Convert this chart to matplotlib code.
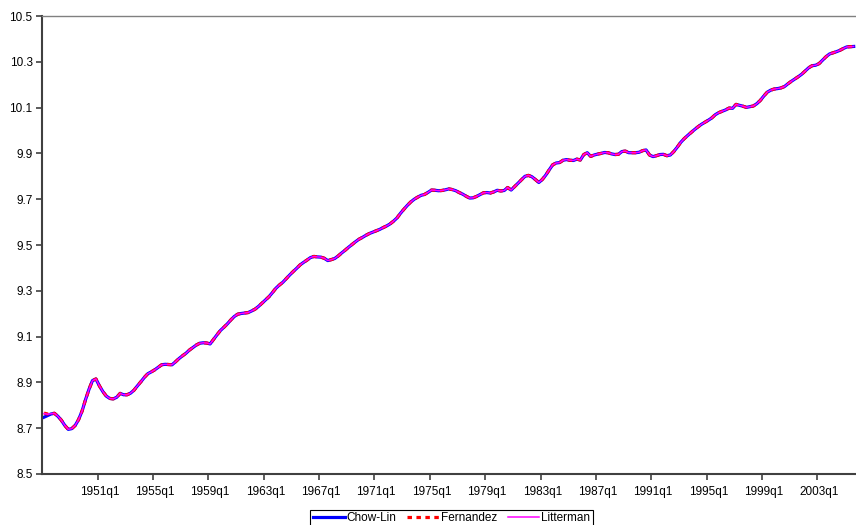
import matplotlib
matplotlib.use("Agg")
from matplotlib import pyplot as plt
import numpy as np

plt.rcParams["font.family"] = ["Liberation Sans", "DejaVu Sans"]

# quarterly series, 1947q1 onwards
chow_lin = [
    8.748, 8.755, 8.762, 8.765,   # 1947
    8.752, 8.735, 8.712, 8.695,   # 1948
    8.698, 8.712, 8.738, 8.775,   # 1949
    8.825, 8.870, 8.908, 8.915,   # 1950
    8.885, 8.860, 8.840, 8.830,   # 1951
    8.828, 8.835, 8.852, 8.846,   # 1952
    8.846, 8.853, 8.866, 8.885,   # 1953
    8.903, 8.922, 8.938, 8.946,   # 1954
    8.955, 8.966, 8.977, 8.979,   # 1955
    8.978, 8.977, 8.990, 9.004,   # 1956
    9.016, 9.027, 9.041, 9.052,   # 1957
    9.063, 9.071, 9.073, 9.072,   # 1958
    9.068, 9.088, 9.108, 9.127,   # 1959
    9.141, 9.156, 9.173, 9.188,   # 1960
    9.198, 9.201, 9.203, 9.205,   # 1961
    9.212, 9.220, 9.232, 9.246,   # 1962
    9.260, 9.274, 9.292, 9.311,   # 1963
    9.325, 9.337, 9.353, 9.369,   # 1964
    9.384, 9.398, 9.413, 9.424,   # 1965
    9.434, 9.445, 9.450, 9.448,   # 1966
    9.447, 9.442, 9.432, 9.436,   # 1967
    9.441, 9.452, 9.465, 9.477,   # 1968
    9.490, 9.502, 9.514, 9.525,   # 1969
    9.533, 9.542, 9.550, 9.556,   # 1970
    9.562, 9.568, 9.576, 9.583,   # 1971
    9.592, 9.604, 9.618, 9.638,   # 1972
    9.656, 9.673, 9.688, 9.700,   # 1973
    9.709, 9.717, 9.721, 9.730,   # 1974
    9.740, 9.739, 9.737, 9.738,   # 1975
    9.741, 9.745, 9.742, 9.737,   # 1976
    9.729, 9.722, 9.713, 9.705,   # 1977
    9.706, 9.712, 9.720, 9.728,   # 1978
    9.729, 9.727, 9.732, 9.739,   # 1979
    9.736, 9.738, 9.751, 9.740,   # 1980
    9.755, 9.770, 9.785, 9.800,   # 1981
    9.804, 9.798, 9.786, 9.773,   # 1982
    9.786, 9.805, 9.828, 9.850,   # 1983
    9.858, 9.860, 9.870, 9.873,   # 1984
    9.870, 9.869, 9.875, 9.871,   # 1985
    9.895, 9.903, 9.887, 9.893,   # 1986
    9.897, 9.900, 9.904, 9.903,   # 1987
    9.898, 9.895, 9.896, 9.908,   # 1988
    9.910, 9.903, 9.903, 9.903,   # 1989
    9.905, 9.912, 9.915, 9.893,   # 1990
    9.886, 9.890, 9.895, 9.896,   # 1991
    9.890, 9.893, 9.908, 9.927,   # 1992
    9.948, 9.964, 9.978, 9.991,   # 1993
    10.004, 10.016, 10.027, 10.036,  # 1994
    10.045, 10.055, 10.069, 10.078,  # 1995
    10.084, 10.090, 10.098, 10.097,  # 1996
    10.114, 10.110, 10.106, 10.101,  # 1997
    10.104, 10.107, 10.117, 10.131,  # 1998
    10.150, 10.167, 10.176, 10.181,  # 1999
    10.183, 10.186, 10.192, 10.204,  # 2000
    10.215, 10.225, 10.235, 10.246,  # 2001
    10.260, 10.274, 10.283, 10.285,  # 2002
    10.292, 10.307, 10.322, 10.334,  # 2003
    10.339, 10.344, 10.350, 10.358,  # 2004
    10.365, 10.366, 10.367,          # 2005
]

# the other two only differ visibly at the very start
fernandez_start = [8.766, 8.762, 8.763]
litterman_start = [8.764, 8.761, 8.763]
fernandez = fernandez_start + chow_lin[len(fernandez_start):]
litterman = litterman_start + chow_lin[len(litterman_start):]

start_year = 1947
quarters = [f"{start_year + i // 4}q{i % 4 + 1}" for i in range(len(chow_lin))]
label_every = 16
first_label = 16  # 1951q1

fig = plt.figure(figsize=(8.56, 5.25), dpi=100)
ax = fig.add_axes([42.3 / 856, 1 - 474 / 525, 1 - 42.3 / 856, (474 - 16) / 525])

x = np.arange(len(chow_lin))
ax.plot(x, chow_lin, color="#0000FF", lw=2.3, label="Chow-Lin", zorder=2)
ax.plot(x, fernandez, color="#FF0000", lw=2.3, dashes=(1.4, 1.4), dash_capstyle="butt",
        label="Fernandez", zorder=3)
ax.plot(x, litterman, color="#FF00FF", lw=1.1, label="Litterman", zorder=4)

ax.set_xlim(-0.5, -0.5 + 813.7 / 3.46)
ax.set_ylim(8.5, 10.5)
ax.set_yticks(np.arange(8.5, 10.51, 0.2))
ax.set_yticklabels([f"{v:.1f}" for v in np.arange(8.5, 10.51, 0.2)])

idx = list(range(first_label, len(quarters), label_every))
ax.set_xticks(idx)
ax.set_xticklabels([quarters[i] for i in idx])
ax.set_xticks([i - 0.5 for i in idx], minor=True)
ax.tick_params(axis="x", which="major", length=0, pad=9, labelsize=8.5)
ax.tick_params(axis="x", which="minor", length=4, width=1.2, color="#404040", direction="out")
ax.tick_params(axis="y", length=4, width=1.2, color="#404040", pad=3, labelsize=8.5)

for s in ["left", "bottom"]:
    ax.spines[s].set_color("#404040")
    ax.spines[s].set_linewidth(1.5)
ax.spines["top"].set_color("#808080")
ax.spines["top"].set_linewidth(1.0)
ax.spines["right"].set_visible(False)

leg = fig.legend(loc="upper center", bbox_to_anchor=(451.5 / 856, 1 - 510 / 525), ncol=3,
                 fontsize=8.5, frameon=True, fancybox=False, framealpha=1,
                 edgecolor="black", handlelength=2.7, handletextpad=0.15,
                 columnspacing=0.9, borderpad=0.2, borderaxespad=0)
leg.get_frame().set_linewidth(0.8)

fig.savefig("out.png", dpi=100)
